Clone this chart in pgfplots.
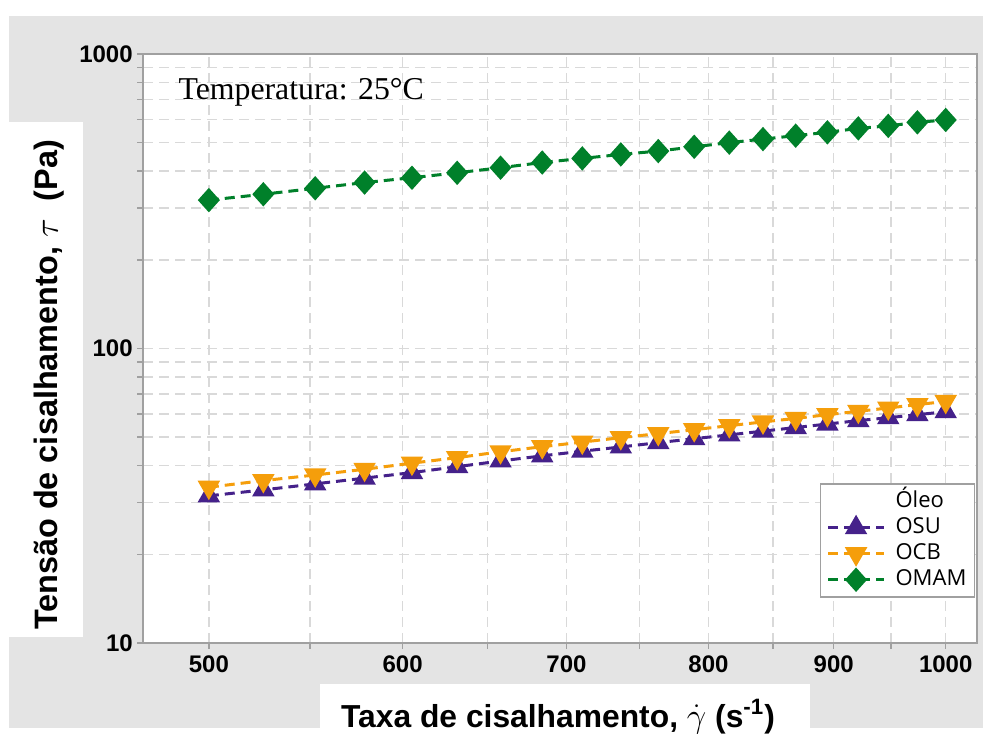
\documentclass[border=0pt]{standalone}
\usepackage{pgfplots}
\pgfplotsset{compat=1.18}
\usepackage{pgfplotstable}
\usepackage{fontspec}
\setmainfont{Liberation Sans}
\newfontfamily\seriffont{Liberation Serif}
\newfontfamily\legfont{Open Sans}
\definecolor{osu}{HTML}{45218A}
\definecolor{ocb}{HTML}{F59E0B}
\definecolor{omam}{HTML}{00802A}
\definecolor{panel}{HTML}{E4E4E4}
\definecolor{gridc}{HTML}{D9D9D9}
\definecolor{axc}{HTML}{A0A0A0}

\pgfplotstableread{
x      osu   ocb   omam
500    31.6  33.8  319
526.3  33.1  35.6  334
552.6  34.7  37.2  350
578.9  36.3  38.9  366
605.3  37.9  40.8  380
631.6  39.7  42.6  395
657.9  41.5  44.6  411
684.2  43.2  46.4  428
710.5  44.8  48.1  442
736.8  46.3  49.8  456
763.2  47.9  51.4  468
789.5  49.4  53.0  484
815.8  50.9  54.7  500
842.1  52.4  56.3  514
868.4  53.9  57.9  528
894.7  55.4  59.6  542
921.1  56.9  61.2  559
947.4  58.2  62.8  570
973.7  59.6  64.5  586
1000   61.0  66.1  597
}\data

\begin{document}
\begin{tikzpicture}
\path[use as bounding box] (-71.5pt,-45pt) rectangle (420pt,321.5pt);
\fill[white] (-71.5pt,-45pt) rectangle (420pt,321.5pt);
\fill[panel] (-67pt,-42.5pt) rectangle (420pt,313.5pt);
\fill[white] (-67pt,3pt) rectangle (-30pt,260.5pt);
\fill[white] (88.5pt,-45pt) rectangle (333.5pt,-20.5pt);
\begin{axis}[
  scale only axis, width=417pt, height=294.5pt,
  xmode=log, ymode=log,
  xmin=470, xmax=1030, ymin=10, ymax=1000,
  axis background/.style={fill=white},
  axis line style={axc, line width=0.75pt},
  xtick={500,600,700,800,900,1000},
  xticklabels={500,600,700,800,900,1000},
  minor xtick={550,650,750,850,950},
  ytick={10,100,1000}, yticklabels={10,100,1000},
  minor ytick={20,30,40,50,60,70,80,90,200,300,400,500,600,700,800,900},
  xtick pos=bottom, ytick pos=left,
  tick align=outside,
  major tick length=3pt, minor tick length=3pt,
  tick style={axc, line width=0.75pt},
  grid=both,
  grid style={gridc, dash pattern=on 5pt off 3pt, line width=0.75pt},
  ticklabel style={font=\fontsize{12}{14}\selectfont\bfseries},
  yticklabel style={inner xsep=2pt},
  xticklabel style={inner ysep=3pt},
  legend style={at={(0.9976,0.0764)}, anchor=south east, draw=axc, line width=0.75pt,
    fill=white, font=\legfont\fontsize{11}{13}\selectfont,
    nodes={inner sep=1pt, text height=8pt, text depth=2.5pt, anchor=west},
    row sep=0.5pt, inner xsep=3pt, inner ysep=2.5pt},
  legend cell align=left,
  legend image code/.code={\draw[mark repeat=2,mark phase=2] plot coordinates {(0pt,0pt) (14pt,0pt) (28pt,0pt)}; \path (0pt,0pt) (32pt,0pt);},
]
\addlegendimage{empty legend}
\addlegendentry{Óleo}
\addplot[osu, line width=1.5pt, dash pattern=on 5pt off 3pt, mark=triangle*, mark size=5pt, mark options={solid, fill=osu}] table[x=x, y=osu] {\data};
\addlegendentry{OSU}
\addplot[ocb, line width=1.5pt, dash pattern=on 5pt off 3pt, mark=triangle*, mark size=5pt, mark options={solid, fill=ocb, rotate=180}] table[x=x, y=ocb] {\data};
\addlegendentry{OCB}
\addplot[omam, line width=1.5pt, dash pattern=on 5pt off 3pt, mark=diamond*, mark size=5pt, mark options={solid, fill=omam, xscale=1.2}] table[x=x, y=omam] {\data};
\addlegendentry{OMAM}
\node[anchor=base west, inner sep=0pt, font=\seriffont\fontsize{15.9}{18}\selectfont] at (rel axis cs:0.042,0.922) {Temperatura: 25°C};
\end{axis}
\node[anchor=base, font=\fontsize{15.9}{19}\selectfont\bfseries] at (207.5pt,-42pt) {Taxa de cisalhamento, $\dot{\gamma}$ (s\textsuperscript{-1})};
\node[anchor=base, rotate=90, font=\fontsize{16.2}{19}\selectfont\bfseries] at (-42.5pt,129pt) {Tensão de cisalhamento, $\tau$\ \ (Pa)};
\end{tikzpicture}
\end{document}
